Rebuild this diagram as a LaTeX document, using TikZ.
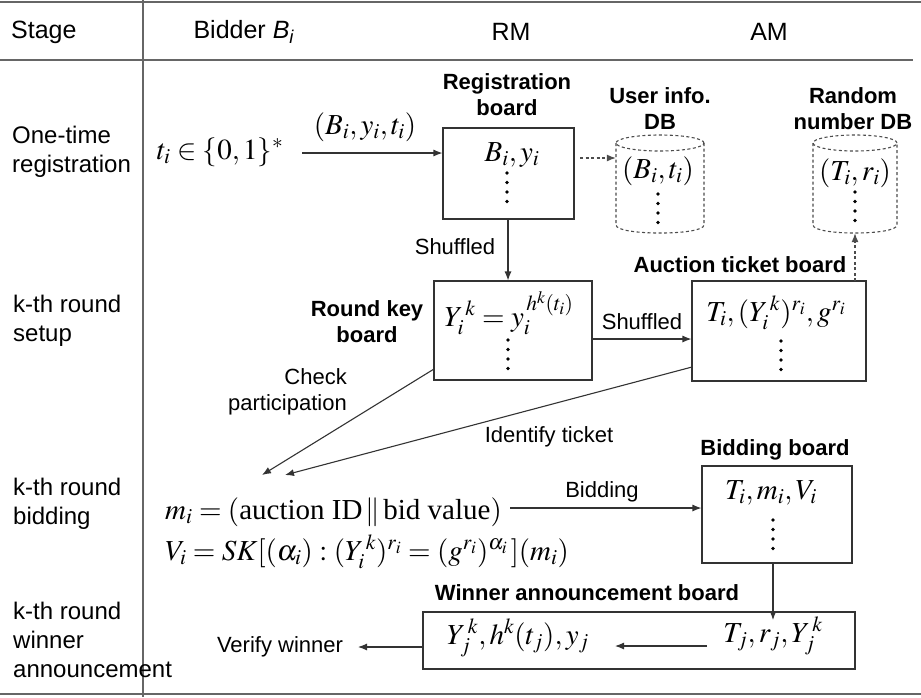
\documentclass[tikz,border=0pt]{standalone}
\usepackage{mathptmx}
\usepackage[no-math]{fontspec}
\setmainfont{Liberation Sans}
\newfontfamily\tms{Liberation Serif}
\usetikzlibrary{arrows.meta}
\newcommand{\mydots}[2]{\foreach \k in {0,1,2,3}{\fill (#1,#2+\k*9.5) circle (1.8pt);}}
\begin{document}
\begin{tikzpicture}[x=1pt,y=-1pt,
  tline/.style={draw=black!60,line width=1.6pt},
  board/.style={draw=black!80,line width=1.1pt,rectangle,inner sep=0pt},
  lbl/.style={font=\fontsize{22}{26}\selectfont,inner sep=0pt},
  blbl/.style={font=\fontsize{22}{26}\selectfont\bfseries,inner sep=0pt,align=center},
  rowlbl/.style={font=\fontsize{24}{29}\selectfont,inner sep=0pt,align=left,anchor=west},
  hdr/.style={font=\fontsize{25}{30}\selectfont,inner sep=0pt},
  mth/.style={font=\fontsize{29}{41}\selectfont,inner sep=0pt},
  arr/.style={draw=black!80,line width=1.1pt,-{Latex[length=9pt,width=7pt]}},
  darr/.style={draw=black!70,line width=1.1pt,dash pattern=on 3pt off 2.5pt,-{Latex[length=9pt,width=7pt]}},
  dsh/.style={draw=black!70,line width=1.1pt,dash pattern=on 3pt off 2.5pt}
]
\useasboundingbox (0,0) rectangle (921,697);
% table lines
\coordinate (tl) at (0,2); \coordinate (tr) at (921,2);
\coordinate (hl) at (0,60); \coordinate (hr) at (913,60);
\coordinate (bl) at (0,694); \coordinate (br) at (921,694);
\coordinate (vt) at (143,0); \coordinate (vb) at (143,697);
\draw[tline] (tl) -- (tr);
\draw[tline] (hl) -- (hr);
\draw[tline] (bl) -- (br);
\draw[tline] (vt) -- (vb);
% header
\node[hdr,anchor=west] (hstage) at (11,32) {Stage};
\node[hdr] (hbid) at (244,32) {Bidder \textit{B}\textsubscript{\textit{i}}};
\node[hdr] (hrm) at (511,32) {RM};
\node[hdr] (ham) at (769,32) {AM};
% row labels
\node[rowlbl] (r1) at (12,152) {One-time\\registration};
\node[rowlbl] (r2) at (13,321) {k-th round\\setup};
\node[rowlbl] (r3) at (13,504) {k-th round\\bidding};
\node[rowlbl] (r4) at (13,640) {k-th round\\winner\\announcement};
% registration row
\node[mth] (ti) at (220,152) {$t_i \in \{0,1\}^{*}$};
\node[mth] (byt) at (365,127) {$({B}_i, y_i, t_i)$};
\node[board,minimum width=131pt,minimum height=91pt] (reg) at (508.5,173.5) {};
\node[mth] (regtxt) at (512,155) {${B}_i, y_i$};
\mydots{507}{173}
\node[blbl] (reglab) at (507,95) {Registration\\board};
\coordinate (a1) at (302,153);
\draw[arr] (a1) -- (a1 -| reg.west);
% user info DB
\node[inner sep=0pt,minimum width=88pt,minimum height=98pt] (udb) at (660,184) {};
\draw[dsh] (660,143) ellipse (44pt and 8pt);
\draw[dsh] (616,143) -- (616,225) .. controls (616,235.7) and (704,235.7) .. (704,225) -- (704,143);
\node[mth] (udbtxt) at (658,171) {$({B}_i, t_i)$};
\mydots{658}{194}
\node[blbl] (udblab) at (660,109) {User info.\\DB};
\coordinate (a2) at (580,158);
\draw[darr] (a2) -- (a2 -| udb.west);
% random number DB
\node[inner sep=0pt,minimum width=84pt,minimum height=98pt] (rdb) at (855,184) {};
\draw[dsh] (855,143) ellipse (42pt and 8pt);
\draw[dsh] (813,143) -- (813,225) .. controls (813,235.7) and (897,235.7) .. (897,225) -- (897,143);
\node[mth] (rdbtxt) at (855,173) {$({T}_i, r_i)$};
\mydots{855}{192}
\node[blbl] (rdblab) at (853,109) {Random\\number DB};
% round key board
\node[board,minimum width=158pt,minimum height=99pt] (rk) at (513,330.5) {};
\node[mth] (rktxt) at (509,313) {${Y}_i^{\,k} = y_i^{\,h^k(t_i)}$};
\mydots{508}{340}
\node[blbl] (rklab) at (367,322) {Round key\\board};
\draw[arr] (reg.south -| 508,0) -- (rk.north -| 508,0);
\node[lbl] (sh1) at (455,247) {Shuffled};
% auction ticket board
\node[board,minimum width=174pt,minimum height=100pt] (at) at (779,331) {};
\node[mth] (attxt) at (776,313) {${T}_i,({Y}_i^{\,k})^{r_i},g^{r_i}$};
\mydots{781}{341}
\node[blbl] (atlab) at (740,265) {Auction ticket board};
\coordinate (a3) at (592,339);
\draw[arr] (a3) -- (a3 -| at.west);
\node[lbl] (sh2) at (642,322) {Shuffled};
\coordinate (a4) at (855,281);
\draw[darr] (a4) -- (a4 |- rdb.south);
% check / identify
\coordinate (c1) at (434,369);
\coordinate (c1e) at (262,475);
\coordinate (c2) at (692,367);
\coordinate (c2e) at (285,475);
\draw[arr] (c1) -- (c1e);
\draw[arr] (c2) -- (c2e);
\node[lbl,align=right,anchor=east] (chk) at (347,392) {Check\\participation};
\node[lbl] (idt) at (549,437) {Identify ticket};
% bidding
\node[mth,anchor=west,align=left] (mv) at (165,533) {$m_i = (\mbox{\tms auction ID}\,\|\,\mbox{\tms bid value})$\\${V}_i = SK[(\alpha_i):({Y}_i^{\,k})^{r_i} = (g^{r_i})^{\alpha_i}\,](m_i)$};
\coordinate (mi) at (510,508);
\node[board,minimum width=150pt,minimum height=97pt] (bb) at (777,514.5) {};
\node[mth] (bbtxt) at (771,493) {${T}_i, m_i, {V}_i$};
\mydots{773}{520}
\node[blbl] (bblab) at (775,450) {Bidding board};
\draw[arr] (mi) -- (mi -| bb.west);
\node[lbl] (bidl) at (602,492) {Bidding};
% winner
\node[board,minimum width=432pt,minimum height=57pt] (wb) at (639,640.5) {};
\node[blbl] (wblab) at (587,593) {Winner announcement board};
\node[mth] (wl) at (518,638) {${Y}_j^{\,k}, h^k(t_j), y_j$};
\node[mth] (wr) at (773,636) {${T}_j, r_j, {Y}_j^{\,k}$};
\coordinate (a6) at (773,620);
\draw[arr] (bb.south -| a6) -- (a6);
\coordinate (a7) at (707,646);
\coordinate (a7e) at (615,646);
\draw[arr] (a7) -- (a7e);
\coordinate (a8e) at (358,647);
\draw[arr] (wb.west |- a8e) -- (a8e);
\node[lbl] (vw) at (280,647) {Verify winner};
\end{tikzpicture}
\end{document}
